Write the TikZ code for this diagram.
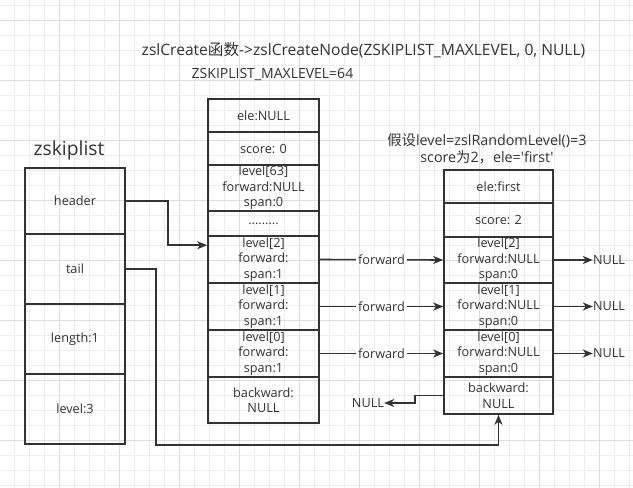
\documentclass[tikz,border=0pt]{standalone}
\usepackage{fontspec}
\newfontfamily\lat{Open Sans}
\newfontfamily\cjk{Noto Sans CJK SC}
\usetikzlibrary{arrows.meta,calc}
\definecolor{ink}{HTML}{333333}
\definecolor{gridc}{HTML}{EDEDED}
\definecolor{gridd}{HTML}{DEDEDE}
\begin{document}
\begin{tikzpicture}[x=1pt,y=-1pt,
  every node/.style={font=\lat\fontsize{12.7}{15.5}\selectfont, text=ink, inner sep=0pt},
  lcell/.style={draw=ink, line width=1.6pt, align=center, minimum width=100},
  mcell/.style={draw=ink, line width=1.6pt, align=center, minimum width=111},
  rcell/.style={draw=ink, line width=1.6pt, align=center, minimum width=109},
  link/.style={draw=ink, line width=1.6pt},
  arr/.style={link, -{Stealth[length=10pt,width=8pt,inset=3pt]}}]
\fill [white] (0,0) rectangle (633,488);
\useasboundingbox (0,0) rectangle (633,488);
\foreach \i in {0,...,41} \draw [gridc, line width=0.8pt] ({14.3+15*\i},0) -- ++(0,488);
\foreach \j in {0,...,32} \draw [gridc, line width=0.8pt] (0,{5+15*\j}) -- ++(633,0);
\foreach \i in {0,...,9} \draw [gridd, line width=0.8pt] ({59.3+60*\i},0) -- ++(0,488);
\foreach \j in {0,...,7} \draw [gridd, line width=0.8pt] (0,{20+60*\j}) -- ++(633,0);
\node [font=\lat\fontsize{15.6}{18}\selectfont] (ttl) at (363.5,50) {zslCreate{\cjk 函数}->zslCreateNode(ZSKIPLIST\_MAXLEVEL, 0, NULL)};
\node [font=\lat\fontsize{14}{16}\selectfont] (maxl) at (272.5,75) {ZSKIPLIST\_MAXLEVEL=64};
\node [font=\lat\fontsize{14.3}{16}\selectfont] (assume) at (487,141) {{\cjk 假设}level=zslRandomLevel()=3};
\node [font=\lat\fontsize{14.3}{16}\selectfont] (scr) at (487,157) {score{\cjk 为}2{\cjk ，}ele='first'};
\node [font=\lat\fontsize{19.3}{22}\selectfont] (zsl) at (69,150) {zskiplist};
\node [lcell, minimum height=66] (hdr) at (75,201) {header};
\node [lcell, minimum height=70] (tl) at (75,269) {tail};
\node [lcell, minimum height=70] (len) at (75,339) {length:1};
\node [lcell, minimum height=70] (lvl) at (75,409) {level:3};
\node [mcell, minimum height=33] (mele) at (263.5,115.5) {ele:NULL};
\node [mcell, minimum height=33] (mscore) at (263.5,148.5) {score: 0};
\node [mcell, minimum height=46] (ml63) at (263.5,188) {level[63]\\forward:NULL\\span:0};
\node [mcell, minimum height=25] (mdots) at (263.5,223.5) {.........};
\node [mcell, minimum height=47] (ml2) at (263.5,259.5) {level[2]\\forward:\\span:1};
\node [mcell, minimum height=47] (ml1) at (263.5,306.5) {level[1]\\forward:\\span:1};
\node [mcell, minimum height=47] (ml0) at (263.5,353.5) {level[0]\\forward:\\span:1};
\node [mcell, minimum height=46] (mbk) at (263.5,400) {backward:\\NULL};
\node [rcell, minimum height=33] (rele) at (498.5,186.5) {ele:first};
\node [rcell, minimum height=34] (rscore) at (498.5,220) {score: 2};
\node [rcell, minimum height=46] (rl2) at (498.5,260) {level[2]\\forward:NULL\\span:0};
\node [rcell, minimum height=47] (rl1) at (498.5,306.5) {level[1]\\forward:NULL\\span:0};
\node [rcell, minimum height=47] (rl0) at (498.5,353.5) {level[0]\\forward:NULL\\span:0};
\node [rcell, minimum height=37] (rbk) at (498.5,395.5) {backward:\\NULL};
\node (n2) at (609,260) {NULL};
\node (n1) at (609,306.5) {NULL};
\node (n0) at (609,353.5) {NULL};
\node (nb) at (368,403) {NULL};
\draw [arr] (hdr.east) -- ++(42,0) |- ($(ml2.north west)+(0,10)$);
\draw [arr] (tl.east) -| ($(lvl.south east)+(30,0)$) -| (rbk.south);
\draw [arr] (ml2.east) -- node [fill=white, inner xsep=2pt] (fw2) {forward} (rl2.west);
\draw [arr] (ml1.east) -- node [fill=white, inner xsep=2pt] (fw1) {forward} (rl1.west);
\draw [arr] (ml0.east) -- node [fill=white, inner xsep=2pt] (fw0) {forward} (rl0.west);
\draw [arr] (rl2.east) -- (n2.west);
\draw [arr] (rl1.east) -- (n1.west);
\draw [arr] (rl0.east) -- (n0.west);
\draw [arr] (rbk.west) -- ++(-28,0) |- (nb.east);
\end{tikzpicture}
\end{document}
